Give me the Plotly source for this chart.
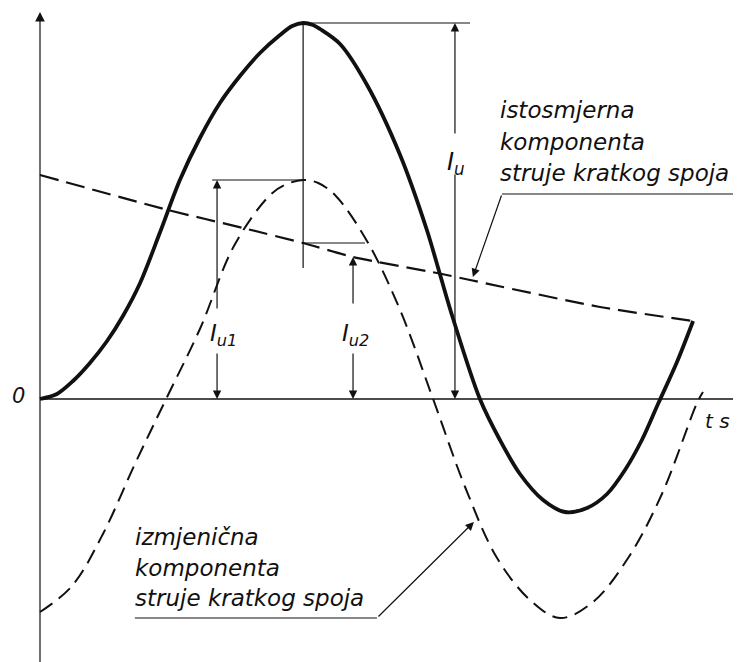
import plotly.graph_objs as go

# readings: time in ms (one period = 20 ms), current in arbitrary units
t_total = [0, 0.65, 1.27, 1.92, 2.58, 3.19, 3.85, 4.62, 5.38, 6.15, 6.92, 7.69, 8.46, 9.23,
           9.7, 10.12, 10.5, 10.77, 11.54, 12.58, 13.85, 14.88, 15.38, 15.88, 16.92, 17.69,
           18.46, 19.35, 20.19, 21.04, 21.81, 22.5, 23.15, 23.77, 24.5, 25.12]
i_total = [0, 0.05, 0.18, 0.36, 0.58, 0.83, 1.16, 1.67, 2.19, 2.61, 2.96, 3.23, 3.46, 3.64,
           3.73, 3.76, 3.74, 3.70, 3.55, 3.14, 2.44, 1.69, 1.25, 0.81, 0.0, -0.41,
           -0.75, -1.01, -1.13, -1.09, -0.95, -0.71, -0.41, -0.05, 0.37, 0.78]

t_ac = [0, 1.23, 2.42, 3.65, 4.85, 6.15, 7.46, 8.85, 9.5, 10.12, 10.7, 11.38, 12.62, 13.85,
        15.12, 16.35, 17.58, 18.85, 20.0, 21.27, 22.62, 23.92, 25.27, 25.5]
i_ac = [-2.13, -1.87, -1.35, -0.65, 0.0, 0.70, 1.53, 2.04, 2.15, 2.19, 2.16, 2.03, 1.56, 0.89,
        0.0, -0.88, -1.59, -2.01, -2.19, -2.03, -1.59, -0.95, -0.04, 0.07]

t_dc = [0, 4.92, 7.81, 10.12, 12.04, 15.27, 16.54, 21.54, 25.12]
i_dc = [2.24, 1.89, 1.71, 1.56, 1.42, 1.26, 1.19, 0.92, 0.78]

label_dc = ['istosmjerna', 'komponenta', 'struje kratkog spoja']
label_ac = ['izmjenična', 'komponenta', 'struje kratkog spoja']

INK = '#111111'
FONT = 'DejaVu Sans'

t_peak = t_total[i_total.index(max(i_total))]
i_peak = max(i_total)
i_ac_peak = max(i_ac)
i_dc_peak = i_dc[t_dc.index(t_peak)]

data = [
    go.Scatter(x=t_dc, y=i_dc, mode='lines',
               line=dict(color=INK, width=2.2, dash='19px,8px', shape='spline', smoothing=0.6)),
    go.Scatter(x=t_ac, y=i_ac, mode='lines',
               line=dict(color=INK, width=2, dash='15px,8px', shape='spline', smoothing=1)),
    go.Scatter(x=t_total, y=i_total, mode='lines',
               line=dict(color=INK, width=3.8, shape='spline', smoothing=0.9)),
]


def seg(x0, y0, x1, y1, w=1.2):
    return dict(type='line', xref='x', yref='y', x0=x0, y0=y0, x1=x1, y1=y1,
                line=dict(color=INK, width=w))


def arrow(x_tail, y_tail, x_tip, y_tip, size=1.4):
    return dict(x=x_tip, y=y_tip, ax=x_tail, ay=y_tail, xref='x', yref='y',
                axref='x', ayref='y', text='', showarrow=True, arrowhead=2,
                arrowsize=size, arrowwidth=1.2, arrowcolor=INK)


def text(x, y, s, size=22, anchor='left'):
    return dict(x=x, y=y, xref='x', yref='y', text=s, showarrow=False,
                xanchor=anchor, yanchor='middle',
                font=dict(family=FONT, size=size, color=INK, style='italic'))


shapes = [
    seg(0, 0, 27.5, 0, 1.6),                        # time axis
    seg(t_peak, i_peak, t_peak, 1.31),              # peak marker
    seg(t_peak, i_peak, 16.54, i_peak),
    seg(6.62, i_ac_peak, t_peak, i_ac_peak),
    seg(t_peak, i_dc_peak, 12.5, i_dc_peak),
    seg(17.77, 2.05, 27.5, 2.05),                   # dc leader
    seg(3.65, -2.19, 12.96, -2.19),                 # ac leader
]

annotations = [
    arrow(0, -2.8, 0, 3.87, 1.6),                   # current axis
    arrow(15.96, 2.64, 15.96, i_peak),
    arrow(15.96, 2.26, 15.96, 0),
    arrow(6.81, 0.89, 6.81, i_ac_peak),
    arrow(6.81, 0.47, 6.81, 0),
    arrow(12.04, 0.94, 12.04, i_dc[4]),
    arrow(12.04, 0.47, 12.04, 0),
    arrow(17.77, 2.05, 16.65, 1.22),
    arrow(12.96, -2.19, 16.69, -1.23),
    text(-0.81, 0.03, '0', 21, 'center'),
    text(26.05, -0.22, 't s', 20, 'center'),
    text(16.0, 2.36, 'I<sub>u</sub>', 24, 'center'),
    text(7.05, 0.64, 'I<sub>u1</sub>', 23, 'center'),
    text(12.15, 0.64, 'I<sub>u2</sub>', 23, 'center'),
]
for k, y in enumerate([2.89, 2.57, 2.26]):
    annotations.append(text(17.62, y, label_dc[k], 23))
for k, y in enumerate([-1.38, -1.69, -1.99]):
    annotations.append(text(3.57, y, label_ac[k], 23))

# the page body adds an 8 px offset, so the ranges start 8 px into the drawing
layout = go.Layout(width=741, height=662, margin=dict(l=0, r=0, t=0, b=0),
                   paper_bgcolor='white', plot_bgcolor='white', showlegend=False,
                   xaxis=dict(range=[-1.231, 27.27], visible=False),
                   yaxis=dict(range=[-2.71, 3.91], visible=False),
                   shapes=shapes, annotations=annotations)
fig = go.Figure(data=data, layout=layout)
fig.write_html("out.html")
